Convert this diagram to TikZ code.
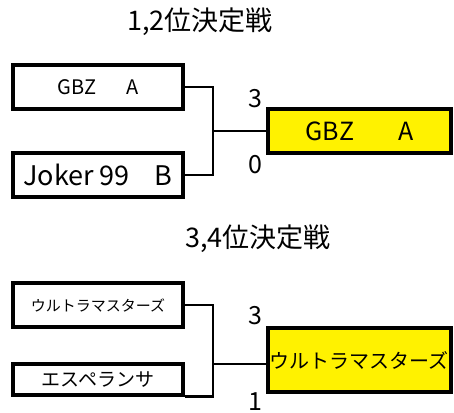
\documentclass[tikz,border=0pt]{standalone}
\usepackage{fontspec}
\setmainfont{Noto Sans CJK JP}
\tikzset{
  team/.style={draw=black,line width=3.4pt,minimum width=170pt,minimum height=44pt,inner sep=0pt},
  winner/.style={team,fill=yellow,minimum width=183pt},
  bracket/.style={draw=black,line width=2.8pt},
  score/.style={font=\fontsize{25}{30}\selectfont,inner sep=0pt}
}
\newcommand{\fsz}[1]{\fontsize{#1}{#1}\selectfont}

\begin{document}
\begin{tikzpicture}[x=1pt,y=-1pt]
    \useasboundingbox (0,0) rectangle (454,412);
    \node[font=\fsz{27}] (T1) at (200,22) {1,2位決定戦};
    \node[team,font=\fsz{20}] (A) at (98,87) {GBZ\hspace{30pt}A};
    \node[team,font=\fsz{27}] (B) at (98,175) {Joker 99\hspace{25pt}B};
    \node[winner,font=\fsz{25}] (W1) at (359.5,131) {GBZ\hspace{44pt}A};
    \coordinate (J1) at (213,131);
    \draw[bracket] (A.east) -| (J1) |- (B.east);
    \draw[bracket] (J1) -- (W1.west);
    \node[score] (S1) at (255,99) {3};
    \node[score] (S2) at (255,165) {0};

    \node[font=\fsz{27}] (T2) at (258,239) {3,4位決定戦};
    \node[team,font=\fsz{15}] (C) at (98,305) {ウルトラマスターズ};
    \node[team,minimum height=31pt,font=\fsz{19}] (D) at (98,379.5) {エスペランサ};
    \node[winner,minimum height=64pt] (W2) at (359.5,360) {};
    \node[anchor=west,inner sep=0pt,font=\fsz{20}] (W2t) at ([xshift=3pt]W2.west) {ウルトラマスターズ};
    \coordinate (J2) at (213,364);
    \draw[bracket] (C.east) -| (J2) |- (D.south east);
    \draw[bracket] (J2) -- (J2 -| W2.west);
    \node[score] (S3) at (255,316) {3};
    \node[score] (S4) at (255,401.5) {1};
\end{tikzpicture}
\end{document}
